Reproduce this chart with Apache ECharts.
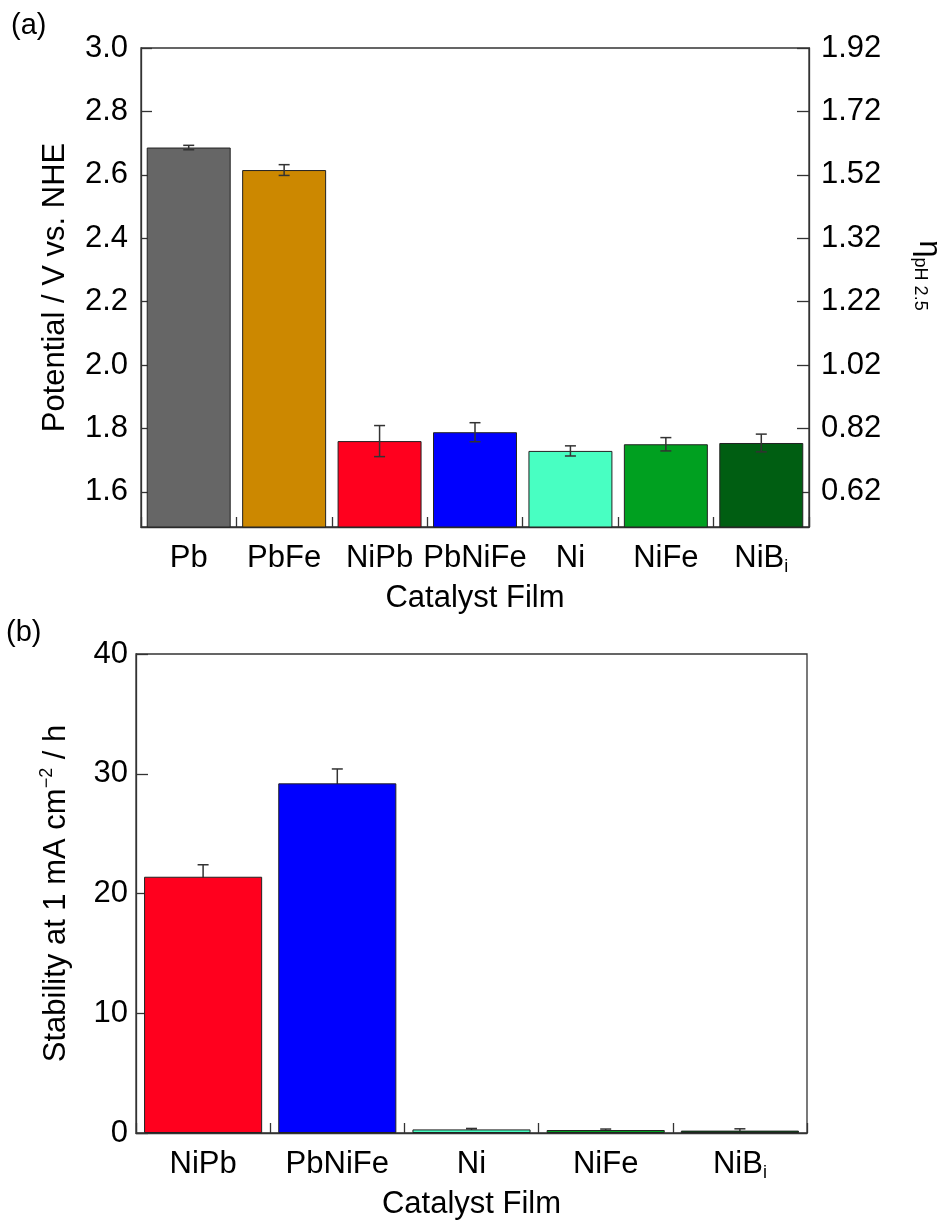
<!DOCTYPE html>
<html>
<head>
<meta charset="utf-8">
<script src="https://cdn.jsdelivr.net/npm/echarts@6/dist/echarts.min.js"></script>
<style>
  html, body { margin: 0; padding: 0; background: #fff; }
  #chart { width: 940px; height: 1221px; }
</style>
</head>
<body>
<div id="chart"></div>
<script>
// panel (a): overpotential per catalyst film
const filmsA = ['Pb', 'PbFe', 'NiPb', 'PbNiFe', 'Ni', 'NiFe', 'NiBi'];
const potential = [2.686, 2.615, 1.760, 1.788, 1.729, 1.750, 1.754];
const potentialErr = [0.007, 0.017, 0.049, 0.030, 0.016, 0.021, 0.028];
const potentialTicks = [1.6, 1.8, 2.0, 2.2, 2.4, 2.6, 2.8, 3.0];
const etaTickLabels = ['0.62', '0.82', '1.02', '1.22', '1.32', '1.52', '1.72', '1.92'];

// panel (b): stability at 1 mA cm-2
const filmsB = ['NiPb', 'PbNiFe', 'Ni', 'NiFe', 'NiBi'];
const stability = [21.4, 29.2, 0.30, 0.25, 0.20];
const stabilityErr = [1.0, 1.2, 0.08, 0.08, 0.15];

const filmColors = {
  Pb: '#666666', PbFe: '#cc8800', NiPb: '#ff001e', PbNiFe: '#0000ff',
  Ni: '#48ffc2', NiFe: '#00a020', NiBi: '#005e12'
};

const FONT = '"Liberation Sans", Arial, sans-serif';
const FS = 31;
const INK = '#222';
const AXIS = '#333';

const chart = echarts.init(document.getElementById('chart'), null, { renderer: 'canvas' });

function filmLabel(name) {
  return name === 'NiBi' ? 'NiB{sub|i}' : name;
}

const catLabel = {
  interval: 0, fontFamily: FONT, fontSize: FS, color: '#000', margin: 13, lineHeight: 36,
  formatter: filmLabel,
  rich: { sub: { fontFamily: FONT, fontSize: 18, color: '#000', lineHeight: 20, padding: [18, 0, 0, 0] } }
};
const axisLine = { show: true, lineStyle: { color: AXIS, width: 1.3 } };
const inTick = (len) => ({ show: true, inside: true, length: len, lineStyle: { color: AXIS, width: 1.3 } });

function errorBars(params, api) {
  const x = api.value(0), y = api.value(1), e = api.value(2);
  const top = api.coord([x, y + e]);
  const bot = api.coord([x, y - e]);
  const half = 5.5;
  const style = { stroke: '#333', lineWidth: 1.5 };
  return {
    type: 'group',
    children: [
      { type: 'line', shape: { x1: top[0], y1: top[1], x2: bot[0], y2: bot[1] }, style },
      { type: 'line', shape: { x1: top[0] - half, y1: top[1], x2: top[0] + half, y2: top[1] }, style },
      { type: 'line', shape: { x1: bot[0] - half, y1: bot[1], x2: bot[0] + half, y2: bot[1] }, style }
    ]
  };
}

chart.setOption({
  animation: false,
  backgroundColor: '#fff',
  graphic: [
    { type: 'text', left: 11, top: 11, style: { text: '(a)', font: '29px ' + FONT, fill: '#000' } },
    { type: 'text', left: 6, top: 618, style: { text: '(b)', font: '29px ' + FONT, fill: '#000' } }
  ],
  grid: [
    { left: 141, right: 131, top: 48, bottom: 694, outerBoundsMode: 'none', containLabel: false,
      show: true, borderColor: AXIS, borderWidth: 1.3 },
    { left: 136, right: 133, top: 654, bottom: 88, outerBoundsMode: 'none', containLabel: false,
      show: true, borderColor: AXIS, borderWidth: 1.3 }
  ],
  xAxis: [
    {
      type: 'category', gridIndex: 0, data: filmsA,
      name: 'Catalyst Film', nameLocation: 'middle', nameGap: 56,
      nameTextStyle: { fontFamily: FONT, fontSize: FS, color: '#000' },
      axisLine, axisTick: inTick(10), axisLabel: catLabel, splitLine: { show: false }
    },
    {
      type: 'category', gridIndex: 1, data: filmsB,
      name: 'Catalyst Film', nameLocation: 'middle', nameGap: 56,
      nameTextStyle: { fontFamily: FONT, fontSize: FS, color: '#000' },
      axisLine, axisTick: inTick(10), axisLabel: catLabel, splitLine: { show: false }
    }
  ],
  yAxis: [
    {
      type: 'value', gridIndex: 0, min: 1.489, max: 3.0, position: 'left',
      name: 'Potential / V vs. NHE', nameLocation: 'middle', nameGap: 70, nameRotate: 90,
      nameTextStyle: { fontFamily: FONT, fontSize: FS, color: '#000' },
      axisLine, splitLine: { show: false },
      axisTick: Object.assign(inTick(11), { customValues: potentialTicks }),
      axisLabel: {
        customValues: potentialTicks, fontFamily: FONT, fontSize: FS, color: '#000', margin: 13,
        formatter: (v) => v.toFixed(1)
      }
    },
    {
      type: 'value', gridIndex: 0, min: 1.489, max: 3.0, position: 'right',
      name: '{eta|η}{sub|pH 2.5}', nameLocation: 'middle', nameGap: 102, nameRotate: -90,
      nameTextStyle: {
        fontFamily: FONT, color: '#000', padding: [0, 24, 0, 0],
        rich: {
          eta: { fontFamily: FONT, fontSize: 31, color: '#000', lineHeight: 36 },
          sub: { fontFamily: FONT, fontSize: 18, color: '#000', lineHeight: 20, padding: [18, 0, 0, 0] }
        }
      },
      axisLine, splitLine: { show: false },
      axisTick: Object.assign(inTick(12), { customValues: potentialTicks }),
      axisLabel: {
        customValues: potentialTicks, fontFamily: FONT, fontSize: FS, color: '#000', margin: 12,
        formatter: (v) => etaTickLabels[potentialTicks.findIndex((t) => Math.abs(t - v) < 1e-6)]
      }
    },
    {
      type: 'value', gridIndex: 1, min: 0, max: 40, interval: 10,
      name: 'Stability at 1 mA cm{sup|−2} / h', nameLocation: 'middle', nameGap: 62, nameRotate: 90,
      nameTextStyle: {
        fontFamily: FONT, fontSize: FS, color: '#000', lineHeight: 36,
        rich: { sup: { fontFamily: FONT, fontSize: 18, color: '#000', lineHeight: 20, padding: [0, 0, 18, 0] } }
      },
      axisLine, splitLine: { show: false }, axisTick: inTick(12),
      axisLabel: { fontFamily: FONT, fontSize: FS, color: '#000', margin: 8 }
    }
  ],
  series: [
    {
      type: 'bar', xAxisIndex: 0, yAxisIndex: 0, barCategoryGap: '12%', z: 2,
      data: potential.map((v, i) => ({
        value: v,
        itemStyle: { color: filmColors[filmsA[i]], borderColor: INK, borderWidth: 1 }
      }))
    },
    {
      type: 'custom', xAxisIndex: 0, yAxisIndex: 0, z: 5, renderItem: errorBars,
      data: potential.map((v, i) => [i, v, potentialErr[i]])
    },
    {
      type: 'custom', xAxisIndex: 1, yAxisIndex: 2, z: 1, renderItem: errorBars,
      data: stability.map((v, i) => [i, v, stabilityErr[i]])
    },
    {
      type: 'bar', xAxisIndex: 1, yAxisIndex: 2, barCategoryGap: '12%', z: 3,
      data: stability.map((v, i) => ({
        value: v,
        itemStyle: { color: filmColors[filmsB[i]], borderColor: INK, borderWidth: 1 }
      }))
    }
  ]
});
</script>
</body>
</html>
